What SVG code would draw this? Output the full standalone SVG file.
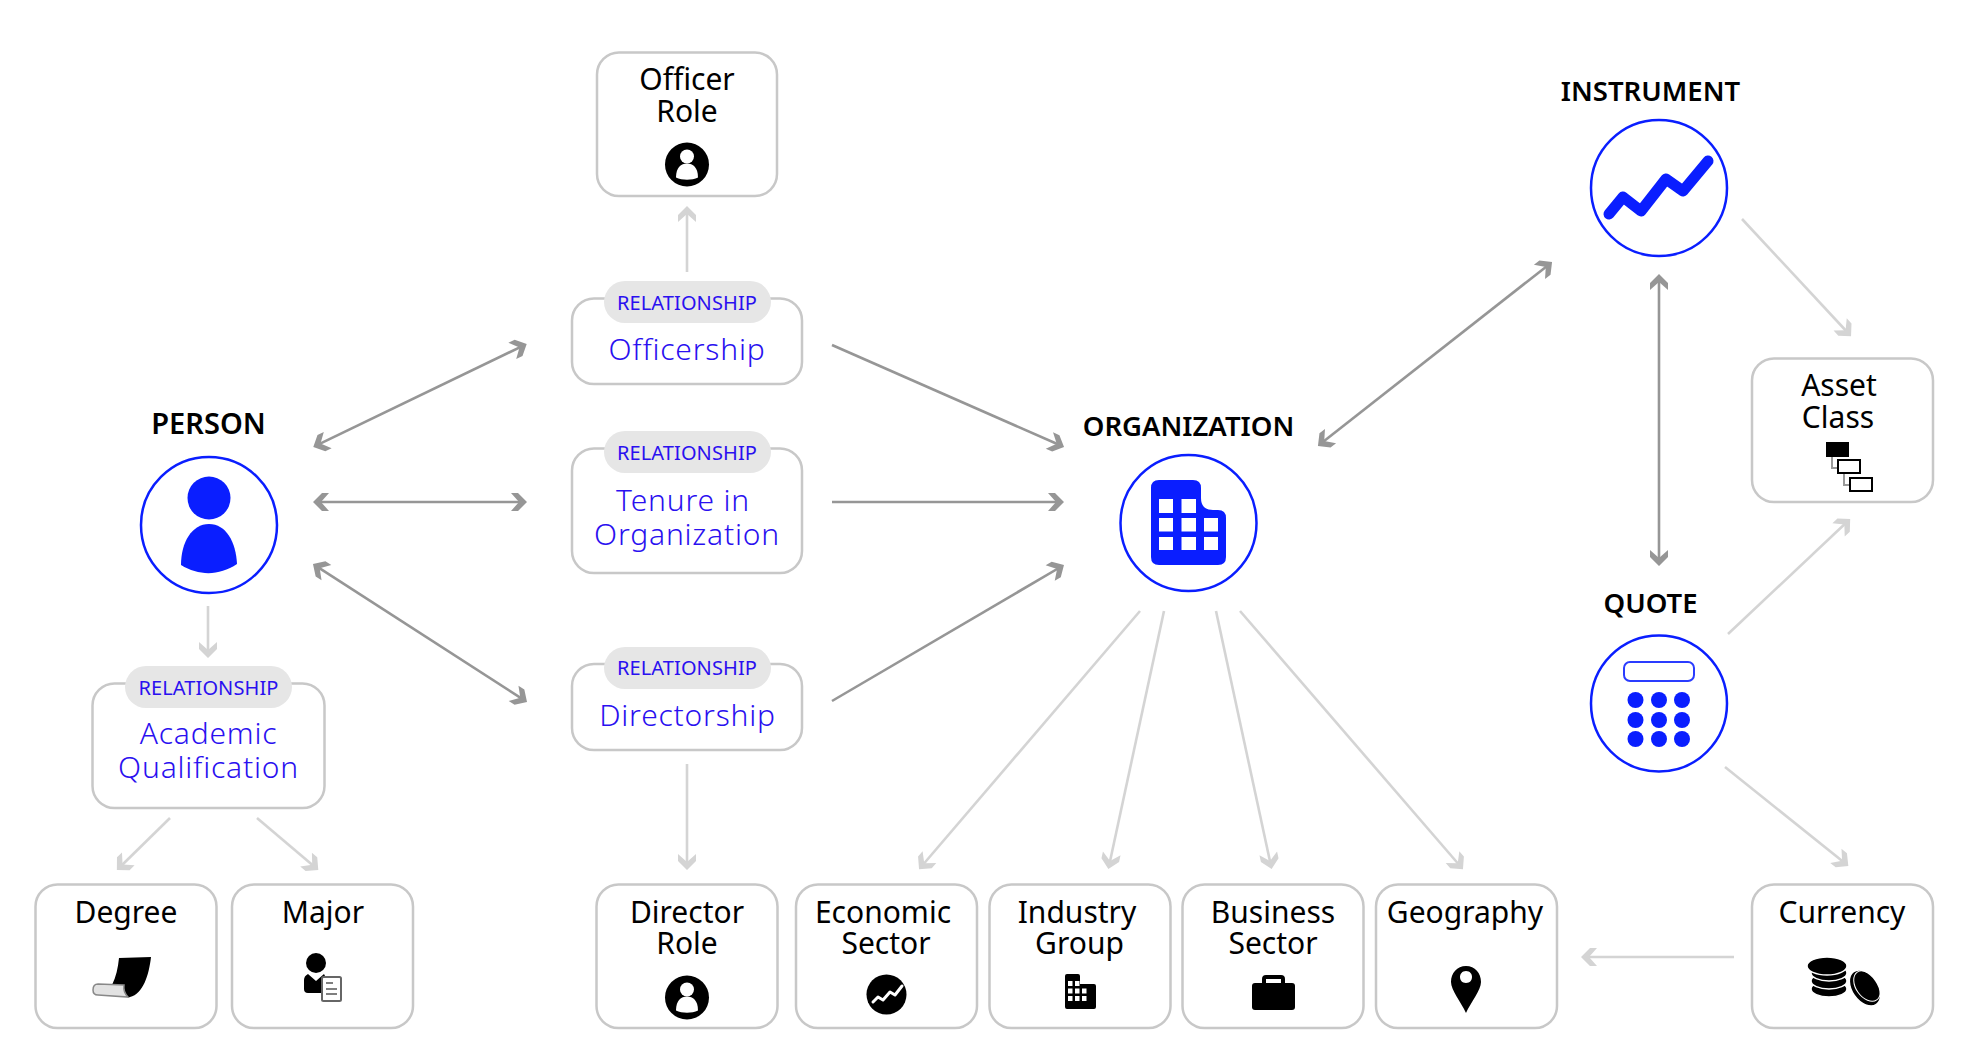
<svg xmlns="http://www.w3.org/2000/svg" width="1986" height="1060" viewBox="0 0 1986 1060">
<style>
text{font-family:"Noto Sans","Open Sans","DejaVu Sans",sans-serif;text-anchor:middle}
.box{fill:#fff;stroke:#c8c8c8;stroke-width:2.5}
.t{font-size:30px;fill:#000}
.b{font-size:30px;font-weight:300;fill:#2a10f0;letter-spacing:.8px}
.pill{fill:#e6e6e6}
.pt{font-size:20px;fill:#2a10f0;letter-spacing:.1px}
.h{font-size:27.500px;font-weight:600;fill:#000}
.c{fill:#fff;stroke:#0a1eff;stroke-width:2.5}
.f{fill:#0a1eff}
.k{fill:#000}
.w{fill:#fff}
.dk{stroke:#969696;stroke-width:2.6;fill:none;marker-end:url(#ad);marker-start:url(#ad)}
.dk1{stroke:#969696;stroke-width:2.6;fill:none;marker-end:url(#ad)}
.lt{stroke:#d4d4d4;stroke-width:2.6;fill:none;marker-end:url(#al)}
</style>
<defs>
<marker id="ad" markerUnits="userSpaceOnUse" markerWidth="24" markerHeight="24" viewBox="-20 -12 24 24" refX="-3" refY="0" orient="auto-start-reverse"><path d="M0,0L-9,-9L-16,-9L-8,0L-16,9L-9,9Z" fill="#969696"/></marker>
<marker id="al" markerUnits="userSpaceOnUse" markerWidth="24" markerHeight="24" viewBox="-20 -12 24 24" refX="-3" refY="0" orient="auto-start-reverse"><path d="M0,0L-9,-9L-16,-9L-8,0L-16,9L-9,9Z" fill="#d4d4d4"/></marker>
<symbol id="role" overflow="visible"><circle r="22" class="k"/><circle cy="-8" r="7" class="w"/><path class="w" d="M-11,13C-11,3-6,-1 0,-1C6,-1 11,3 11,13C5,16-5,16-11,13Z"/></symbol>
</defs>
<g id="connectors">
<line class="dk" x1="316" y1="445.700" x2="524" y2="345.300"/>
<line class="dk" x1="316" y1="502" x2="524" y2="502"/>
<line class="dk" x1="315.500" y1="565.600" x2="524.500" y2="700.400"/>
<line class="dk1" x1="832" y1="345" x2="1061.300" y2="445.800"/>
<line class="dk1" x1="832" y1="502" x2="1061" y2="502"/>
<line class="dk1" x1="832" y1="701" x2="1061.400" y2="566.500"/>
<line class="dk" x1="1320.300" y1="444.100" x2="1549.700" y2="263.900"/>
<line class="dk" x1="1659" y1="277" x2="1659" y2="563"/>
<line class="lt" x1="208" y1="606" x2="208" y2="655"/>
<line class="lt" x1="170" y1="818" x2="119" y2="868"/>
<line class="lt" x1="257" y1="818" x2="316" y2="868"/>
<line class="lt" x1="687" y1="272" x2="687" y2="209"/>
<line class="lt" x1="687" y1="764" x2="687" y2="867"/>
<line class="lt" x1="1140" y1="611" x2="921" y2="867"/>
<line class="lt" x1="1164" y1="611" x2="1109" y2="866"/>
<line class="lt" x1="1216" y1="611" x2="1271" y2="866"/>
<line class="lt" x1="1240" y1="611" x2="1461" y2="867"/>
<line class="lt" x1="1742" y1="219" x2="1849" y2="334"/>
<line class="lt" x1="1728" y1="634" x2="1848" y2="521"/>
<line class="lt" x1="1725" y1="767" x2="1846" y2="864"/>
<line class="lt" x1="1734" y1="957" x2="1584" y2="957"/>
</g>
<g id="person">
<text class="h" style="font-size:29px" x="208.500" y="434">PERSON</text>
<circle class="c" cx="209" cy="525" r="68"/>
<circle class="f" cx="209" cy="498" r="21.500"/>
<path class="f" d="M181,565C181,542 192,524 209,524C226,524 236,542 237,564C219,576 199,576 181,565Z"/>
</g>
<g id="organization">
<text class="h" x="1188.500" y="436">ORGANIZATION</text>
<circle class="c" cx="1188.500" cy="523" r="68"/>
<path class="f" d="M1159,480H1193Q1201,480 1201,488V498Q1201,510 1213,510H1218Q1226,510 1226,518V557Q1226,565 1218,565H1159Q1151,565 1151,557V488Q1151,480 1159,480Z"/>
<g class="w"><rect x="1159" y="499" width="14" height="14"/><rect x="1181.500" y="499" width="14.500" height="14"/><rect x="1159" y="518" width="14" height="13.500"/><rect x="1181.500" y="518" width="14.500" height="13.500"/><rect x="1204" y="518" width="14" height="13.500"/><rect x="1159" y="537" width="14" height="13"/><rect x="1181.500" y="537" width="14.500" height="13"/><rect x="1204" y="537" width="14" height="13"/></g>
</g>
<g id="instrument">
<text class="h" x="1650.500" y="101">INSTRUMENT</text>
<circle class="c" cx="1659" cy="188" r="68"/>
<path d="M1609,214L1623,197L1641,211L1666,179L1683,191L1708,161" fill="none" stroke="#0a1eff" stroke-width="11" stroke-linecap="round" stroke-linejoin="round"/>
</g>
<g id="quote">
<text class="h" x="1650.500" y="613">QUOTE</text>
<circle class="c" cx="1659" cy="703.500" r="68"/>
<rect x="1624" y="662" width="70" height="19" rx="6" fill="#fff" stroke="#2a3cff" stroke-width="2"/>
<g class="f"><circle cx="1635.500" cy="700" r="8"/><circle cx="1659" cy="700" r="8"/><circle cx="1682" cy="700" r="8"/><circle cx="1635.500" cy="720" r="8"/><circle cx="1659" cy="720" r="8"/><circle cx="1682" cy="720" r="8"/><circle cx="1635.500" cy="739" r="8"/><circle cx="1659" cy="739" r="8"/><circle cx="1682" cy="739" r="8"/></g>
</g>
<g id="officership">
<rect class="box" x="572" y="298.500" width="230" height="85.500" rx="22"/>
<rect class="pill" x="604" y="281" width="167" height="42" rx="21"/>
<text class="pt" x="687" y="310">RELATIONSHIP</text>
<text class="b" x="687" y="360">Officership</text>
</g>
<g id="tenure">
<rect class="box" x="572" y="448.500" width="230" height="124.500" rx="22"/>
<rect class="pill" x="604" y="431" width="167" height="42" rx="21"/>
<text class="pt" x="687" y="460">RELATIONSHIP</text>
<text class="b" x="683" y="510.500">Tenure in</text>
<text class="b" x="687" y="544.500">Organization</text>
</g>
<g id="directorship">
<rect class="box" x="572" y="664" width="230" height="86" rx="22"/>
<rect class="pill" x="604" y="647" width="167" height="42" rx="21"/>
<text class="pt" x="687" y="675">RELATIONSHIP</text>
<text class="b" x="687.500" y="726">Directorship</text>
</g>
<g id="academic">
<rect class="box" x="92.500" y="683.500" width="232" height="124.500" rx="22"/>
<rect class="pill" x="125" y="666" width="167" height="42" rx="21"/>
<text class="pt" x="208.500" y="694.500">RELATIONSHIP</text>
<text class="b" x="208.500" y="744">Academic</text>
<text class="b" x="208.500" y="778">Qualification</text>
</g>
<g id="officer-role">
<rect class="box" x="597" y="52.500" width="180" height="143.500" rx="22"/>
<text class="t" x="687" y="90">Officer</text>
<text class="t" x="687" y="121.500">Role</text>
<use href="#role" x="687" y="164.500"/>
</g>
<g id="degree">
<rect class="box" x="35.500" y="884.500" width="181" height="143.500" rx="22"/>
<text class="t" x="126" y="923">Degree</text>
<path class="k" d="M119,958L151,957C149,975 143,994 130,997C124,998 122,993 124,987L112,985C116,977 118,968 119,958Z"/>
<path d="M124,985L98,984Q93,984 93,990Q93,995 98,995L128,997Q123,992 124,985Z" fill="#e2e2e2" stroke="#888" stroke-width="1.500"/>
</g>
<g id="major">
<rect class="box" x="232" y="884.500" width="181" height="143.500" rx="22"/>
<text class="t" x="323" y="923">Major</text>
<circle class="k" cx="316" cy="963" r="10"/>
<path class="k" d="M308,974L316,981L324,974L326,978V993H308Q304,993 304,989V980Q304,976 308,974Z"/>
<rect x="322" y="977" width="19" height="24" rx="1.500" fill="#fff" stroke="#666" stroke-width="2"/>
<path d="M326,983H333M326,989H337M326,994H337" stroke="#555" stroke-width="1.500" fill="none"/>
</g>
<g id="director-role">
<rect class="box" x="596.500" y="884.500" width="181" height="143.500" rx="22"/>
<text class="t" x="687" y="923">Director</text>
<text class="t" x="687" y="954">Role</text>
<use href="#role" x="687" y="997.500"/>
</g>
<g id="economic-sector">
<rect class="box" x="796" y="884.500" width="181" height="143.500" rx="22"/>
<text class="t" x="883" y="923">Economic</text>
<text class="t" x="886" y="954">Sector</text>
<circle class="k" cx="886.500" cy="994.500" r="20"/>
<path d="M873,1002L878,997L883,1000L890,992L895,995L902,986" fill="none" stroke="#fff" stroke-width="3" stroke-linecap="round" stroke-linejoin="round"/>
</g>
<g id="industry-group">
<rect class="box" x="989.500" y="884.500" width="181" height="143.500" rx="22"/>
<text class="t" x="1077" y="923">Industry</text>
<text class="t" x="1079.500" y="954">Group</text>
<path class="k" d="M1067,974H1078Q1080,974 1080,976V984H1094Q1096,984 1096,986V1007Q1096,1009 1094,1009H1067Q1065,1009 1065,1007V976Q1065,974 1067,974Z"/>
<g class="w"><rect x="1068" y="981" width="4.500" height="5"/><rect x="1075" y="981" width="4.500" height="5"/><rect x="1068" y="988.500" width="4.500" height="5"/><rect x="1075" y="988.500" width="4.500" height="5"/><rect x="1082" y="988.500" width="4.500" height="5"/><rect x="1068" y="996" width="4.500" height="5"/><rect x="1075" y="996" width="4.500" height="5"/><rect x="1082" y="996" width="4.500" height="5"/></g>
</g>
<g id="business-sector">
<rect class="box" x="1182.500" y="884.500" width="181" height="143.500" rx="22"/>
<text class="t" x="1273" y="923">Business</text>
<text class="t" x="1273" y="954">Sector</text>
<rect class="k" x="1252" y="983" width="43" height="27" rx="3"/>
<path d="M1264,984V979Q1264,977 1266,977H1281Q1283,977 1283,979V984" fill="none" stroke="#000" stroke-width="4"/>
</g>
<g id="geography">
<rect class="box" x="1376" y="884.500" width="181" height="143.500" rx="22"/>
<text class="t" x="1465" y="923">Geography</text>
<path class="k" fill-rule="evenodd" d="M1466,966C1475,966 1481,973 1481,982C1481,990 1471,1002 1466,1013C1461,1002 1451,990 1451,982C1451,973 1457,966 1466,966ZM1466,971C1462,971 1460,974 1460,977C1460,980 1462,983 1466,983C1470,983 1472,980 1472,977C1472,974 1470,971 1466,971Z"/>
</g>
<g id="currency">
<rect class="box" x="1752" y="884.500" width="181" height="143.500" rx="22"/>
<text class="t" x="1842" y="923">Currency</text>
<g class="k" stroke="#fff" stroke-width="1.500"><ellipse cx="1829" cy="989" rx="18" ry="8"/><ellipse cx="1829" cy="981" rx="18" ry="8"/><ellipse cx="1829" cy="973" rx="18" ry="8"/><ellipse cx="1827" cy="966" rx="20" ry="9"/><ellipse cx="1865" cy="988" rx="13" ry="20" transform="rotate(-35 1865 988)"/><ellipse cx="1867" cy="986" rx="11" ry="17" fill="none" stroke-width="1" transform="rotate(-35 1867 986)"/></g>
</g>
<g id="asset-class">
<rect class="box" x="1752" y="358.500" width="181" height="143.500" rx="22"/>
<text class="t" x="1839" y="396">Asset</text>
<text class="t" x="1838" y="427.500">Class</text>
<path d="M1832,456V468H1838M1844,473V485H1850" fill="none" stroke="#999" stroke-width="2"/>
<rect class="k" x="1826" y="442" width="23" height="15"/>
<rect x="1838" y="460" width="22" height="13" fill="#fff" stroke="#000" stroke-width="2"/>
<rect x="1850" y="478" width="22" height="13" fill="#fff" stroke="#000" stroke-width="2"/>
</g>
</svg>
